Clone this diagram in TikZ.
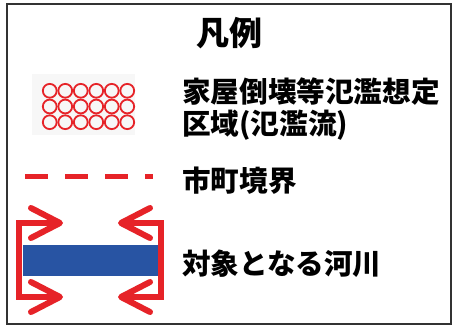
\documentclass[tikz,border=0pt]{standalone}
\usepackage{fontspec}
\newfontfamily\jp{Noto Sans CJK JP}
\definecolor{legred}{RGB}{230,35,40}
\definecolor{legblue}{RGB}{40,84,163}
\definecolor{frame}{RGB}{50,50,50}
\tikzset{
  label/.style={font=\jp\bfseries\fontsize{28.6}{30}\selectfont, anchor=west, inner sep=0pt},
  ring/.style={draw=legred, line width=1.8pt},
  bracket/.style={draw=legred, line width=6pt, line join=miter},
  chevron/.style={draw=legred, line width=6pt, line cap=round, line join=round},
}
\begin{document}
\begin{tikzpicture}[x=1pt,y=-1pt]
\useasboundingbox (0,0) rectangle (461,328);
\fill[white] (0,0) rectangle (461,328);
% frame
\draw[draw=frame, line width=2pt] (6.5,4.5) rectangle (451,324);
% title
\node[font=\jp\bfseries\fontsize{33}{35}\selectfont, inner sep=0pt] (title) at (229,33) {凡例};
% circles symbol
\fill[black!3] (32,74) rectangle (135,135);
\foreach \i in {0,...,5} {
  \foreach \j in {0,1,2} {
    \draw[ring] (49.75+15.5*\i, 90.8+15.7*\j) circle (6.9pt);
  }
}
\node[label] (t1) at (182,92) {家屋倒壊等氾濫想定};
\node[label] (t2) at (182,125) {区域(氾濫流)};
% dashed boundary
\coordinate (d1) at (25,176.5);
\coordinate (d2) at (153,176.5);
\draw[legred, line width=5.5pt, dash pattern=on 23pt off 17pt] (d1) -- (d2);
\node[label] (t3) at (182,181) {市町境界};
% river with arrows
\coordinate (la) at (60,223);
\coordinate (lb) at (60,297);
\coordinate (ra) at (121,223);
\coordinate (rb) at (121,297);
\draw[bracket] (la) -- (19,223) -- (19,297) -- (lb);
\draw[bracket] (ra) -- (161,223) -- (161,297) -- (rb);
\draw[chevron] (31,208) -- (la) -- (31,238);
\draw[chevron] (31,282) -- (lb) -- (31,312);
\draw[chevron] (150,208) -- (ra) -- (150,238);
\draw[chevron] (150,282) -- (rb) -- (150,312);
\fill[legblue] (22.7,245) rectangle (158.3,276);
\node[label] (t4) at (182,264) {対象となる河川};
\end{tikzpicture}
\end{document}
